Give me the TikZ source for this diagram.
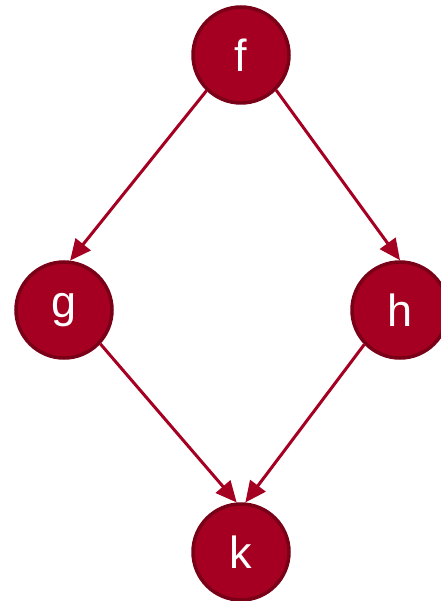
\documentclass[tikz,border=0pt]{standalone}
\usepackage{fontspec}
\setmainfont{Liberation Sans}
\usetikzlibrary{arrows.meta}
\definecolor{nodefill}{RGB}{165,0,33}
\definecolor{nodeborder}{RGB}{122,0,24}
\definecolor{edgecol}{RGB}{165,0,33}
\tikzset{
  vert/.style={circle, minimum size=96pt, inner sep=0pt, fill=nodefill, draw=nodeborder, line width=3.5pt, text=white, font=\fontsize{45}{45}\selectfont},
  edge/.style={draw=edgecol, line width=3pt, -{Triangle[length=21pt,width=19pt]}}
}
\begin{document}
\begin{tikzpicture}[x=1pt,y=-1pt]
\useasboundingbox (0,0) rectangle (440,601);
\node[vert] (f) at (241,55) {f};
\node[vert] (g) at (64,310) {g};
\node[vert] (h) at (400,310) {h};
\node[vert] (k) at (241,552) {k};
\draw[edge] (f.226) -- (g.83);
\draw[edge] (f.315) -- (h.north);
\draw[edge] (g.317) -- (k.95);
\draw[edge] (h.224) -- (k.85);
\end{tikzpicture}
\end{document}
